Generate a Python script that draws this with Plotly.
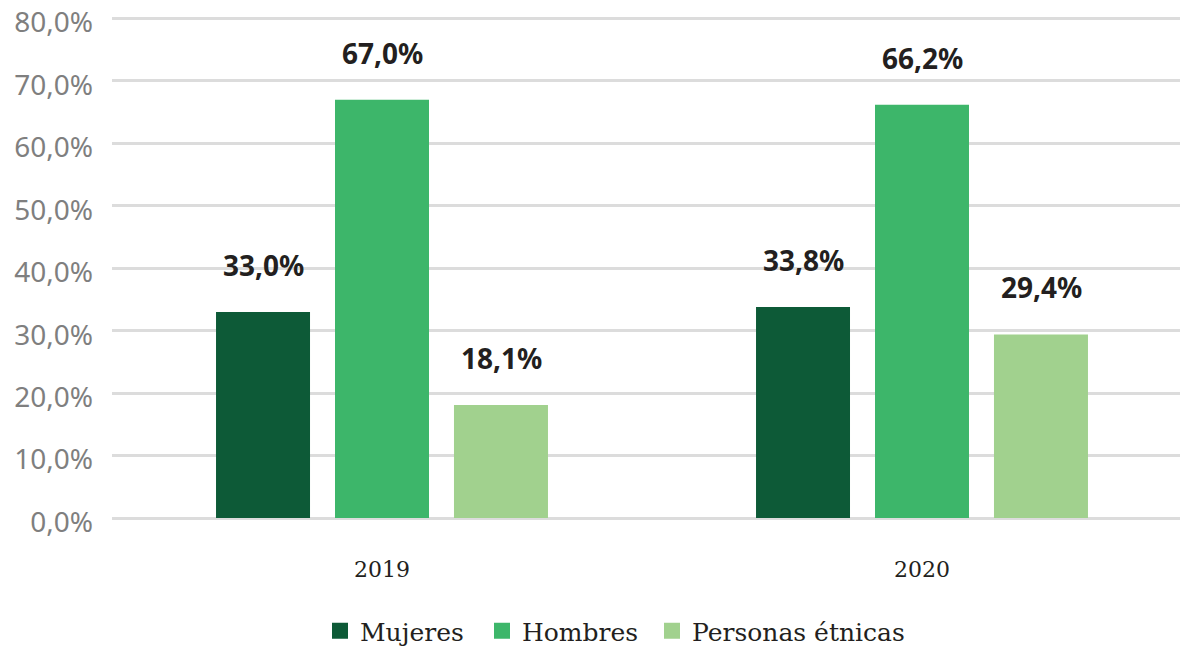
import plotly.graph_objects as go

years = ["2019", "2020"]
series_names = ["Mujeres", "Hombres", "Personas étnicas"]
mujeres = [33.0, 33.8]
hombres = [67.0, 66.2]
etnicas = [18.1, 29.4]
y_ticks = [0, 10, 20, 30, 40, 50, 60, 70, 80]
y_tick_labels = ["0,0%", "10,0%", "20,0%", "30,0%", "40,0%", "50,0%", "60,0%", "70,0%", "80,0%"]

colors = ["#0D5A37", "#3DB66A", "#A1D18E"]
series_values = [mujeres, hombres, etnicas]
legend_ids = ["legend", "legend2", "legend3"]
legend_x = [312, 474, 644]  # left edge of each legend entry, px


def fmt(v):
    return f"{v:.1f}".replace(".", ",") + "%"


# page body adds an 8px margin, so the figure is 8px smaller each way
W, H = 1180, 640

fig = go.Figure()
for name, vals, col, lg in zip(series_names, series_values, colors, legend_ids):
    fig.add_trace(go.Bar(x=years, y=vals, name=name, marker_color=col,
                         marker_line_width=0, hoverinfo="skip", showlegend=False))
    # legend-only marker so the key square can be larger than the bar default
    fig.add_trace(go.Scatter(x=[None], y=[None], mode="markers", name=name,
                             marker=dict(symbol="square", size=17, color=col),
                             legend=lg, hoverinfo="skip"))

# value labels above each bar, shifted to their slot in the group
slot = 119
for i, vals in enumerate(series_values):
    for j, v in enumerate(vals):
        fig.add_annotation(x=j, y=v, text=f"<b>{fmt(v)}</b>", showarrow=False,
                           xshift=(i - 1) * slot, yshift=26, yanchor="bottom",
                           font=dict(family="Noto Sans", size=28, color="#231F20"))

legend_font = dict(family="DejaVu Serif", size=25, color="#231F20")
legends = {}
for lg, lx in zip(legend_ids, legend_x):
    legends[lg] = dict(orientation="h", xref="container", yref="container",
                       x=lx / W, xanchor="left", y=1 - 623 / H, yanchor="middle",
                       font=legend_font, itemclick=False, bgcolor="rgba(0,0,0,0)")

fig.update_layout(
    width=W, height=H,
    margin=dict(l=104, r=0, t=8, b=130, autoexpand=False),
    plot_bgcolor="white", paper_bgcolor="white",
    barmode="group", bargap=0.339, bargroupgap=0.21,
    showlegend=True,
    xaxis=dict(type="category", range=[-0.5, 1.4926], showgrid=False, zeroline=False,
               showline=False, ticks="", ticklabelstandoff=36, automargin=False,
               tickfont=dict(family="DejaVu Serif", size=22, color="#231F20")),
    yaxis=dict(range=[0, 80.4], tickvals=y_ticks, ticktext=y_tick_labels,
               showgrid=True, gridcolor="#DCDCDC", gridwidth=3,
               zeroline=True, zerolinecolor="#DCDCDC", zerolinewidth=3,
               showline=False, ticks="", ticklabelstandoff=18, ticklabelshift=4,
               ticklabeloverflow="allow", automargin=False,
               tickfont=dict(family="Noto Sans", size=28, color="#7F7F7F")),
    **legends,
)

fig.write_html("out.html")
